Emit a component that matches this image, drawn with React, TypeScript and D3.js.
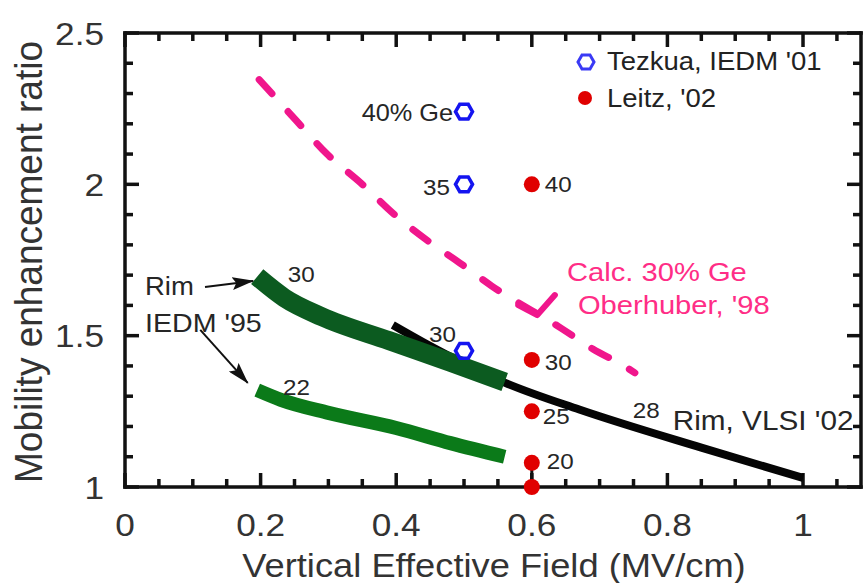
import React from 'react';
import * as d3 from 'd3';

const W = 863;
const H = 583;

const xMax = 1.087;
const xTicks = [0, 0.2, 0.4, 0.6, 0.8, 1];
const xTickLabels = ['0', '0.2', '0.4', '0.6', '0.8', '1'];
const yTicks = [1, 1.5, 2, 2.5];
const yTickLabels = ['1', '1.5', '2', '2.5'];

// Rim, IEDM '95 (30% and 22% Ge bands)
const rim30Field = [0.195, 0.235, 0.29, 0.39, 0.48, 0.56];
const rim30Ratio = [1.695, 1.625, 1.563, 1.483, 1.412, 1.347];
const rim22Field = [0.195, 0.23, 0.3, 0.4, 0.48, 0.56];
const rim22Ratio = [1.32, 1.288, 1.245, 1.195, 1.145, 1.1];

// Rim, VLSI '02 (28%)
const vlsiField = [0.395, 0.44, 0.56, 0.67, 0.85, 1.0];
const vlsiRatio = [1.535, 1.478, 1.345, 1.256, 1.13, 1.03];

// Calc. 30% Ge, Oberhuber '98
const calcField = [0.177, 0.208, 0.252, 0.298, 0.348, 0.398, 0.445, 0.494, 0.541, 0.643, 0.69, 0.739, 0.752];
const calcRatio = [2.397, 2.321, 2.212, 2.1, 2.004, 1.899, 1.816, 1.74, 1.664, 1.525, 1.456, 1.396, 1.377];
const calcCheckField = [0.58, 0.608, 0.634];
const calcCheckRatio = [1.601, 1.568, 1.634];

// Tezkua, IEDM '01
const tezkuaField = [0.5, 0.5, 0.5];
const tezkuaRatio = [2.24, 2.0, 1.45];
const tezkuaLabels = ['40% Ge', '35', '30'];

// Leitz, '02
const leitzField = [0.6, 0.6, 0.6, 0.6, 0.6];
const leitzRatio = [2.0, 1.42, 1.25, 1.08, 1.0];
const leitzLabels = ['40', '30', '25', '20', ''];
const leitzBar = [1.0, 1.08];

// label placement (px offsets from the point)
const tezkuaLabelOffset = [[-11, 9], [-14, 11], [-8, -9]];
const leitzLabelOffset = [[13, 8], [13, 10], [11, 13], [15, 6], [0, 0]];

const font = '"Liberation Sans", Arial, sans-serif';
const ink = '#262626';
const pink = '#f0168c';
const axisInk = '#111111';
const lw = 3.5;

const zip = (a: number[], b: number[]) => a.map((v, i) => [v, b[i]] as [number, number]);

const hexPath = (r: number) =>
  'M' + d3.range(6).map(i => {
    const a = (Math.PI / 3) * i;
    return [r * Math.cos(a), r * Math.sin(a)].join(',');
  }).join('L') + 'Z';

const T = ({ x, y, size, anchor = 'start', fill = ink, children }: any) => (
  <text
    transform={`translate(${x},${y}) scale(1.1,1)`}
    fontSize={size}
    textAnchor={anchor}
    fill={fill}
    fontFamily={font}
  >
    {children}
  </text>
);

type Box = { x: number; y: number; w: number; h: number };

export default function App() {
  const x = d3.scaleLinear().domain([0, xMax]).range([125, 862]);
  const y = d3.scaleLinear().domain([1, 2.5]).range([487, 33]);

  const line = d3.line<[number, number]>()
    .x(d => x(d[0]))
    .y(d => y(d[1]))
    .curve(d3.curveMonotoneX);
  const straight = d3.line<[number, number]>()
    .x(d => x(d[0]))
    .y(d => y(d[1]));

  const left = x(0);
  const right = x(xMax) - 1;
  const bottom = y(1);
  const top = y(2.5);
  const h = lw / 2;

  const xMinor = d3.range(0, xMax, 0.05);
  const yMinor = d3.range(1, 2.5001, 0.1);
  const isMajorX = (v: number) => Math.abs(v / 0.2 - Math.round(v / 0.2)) < 1e-6;
  const isMajorY = (v: number) => Math.abs(v / 0.5 - Math.round(v / 0.5)) < 1e-6;

  // ticks and frame drawn as filled boxes
  const boxes: Box[] = [];
  xMinor.forEach(v => {
    const len = isMajorX(v) ? 14 : 8;
    const px = x(v);
    boxes.push({ x: px - h, y: bottom - len, w: lw, h: len });
    boxes.push({ x: px - h, y: top, w: lw, h: len });
  });
  yMinor.forEach(v => {
    const len = isMajorY(v) ? 14 : 8;
    const py = y(v);
    boxes.push({ x: left, y: py - h, w: len, h: lw });
    boxes.push({ x: right - len, y: py - h, w: len, h: lw });
  });
  boxes.push({ x: left - h, y: top - h, w: right - left + lw, h: lw });
  boxes.push({ x: left - h, y: bottom - h, w: right - left + lw, h: lw });
  boxes.push({ x: left - h, y: top - h, w: lw, h: bottom - top + lw });
  boxes.push({ x: right - h, y: top - h, w: lw, h: bottom - top + lw });

  const hex = hexPath(8.5);

  return (
    <svg
      width={W}
      height={H}
      style={{ position: 'absolute', left: 0, top: 0, background: '#fff' }}
    >
      <defs>
        <marker id="ah" markerWidth={22} markerHeight={13} refX={21} refY={6.5}
          orient="auto" markerUnits="userSpaceOnUse">
          <path d="M0,0 L22,6.5 L0,13 L4,6.5 Z" fill="#111" />
        </marker>
      </defs>

      {/* frame and ticks */}
      <g fill={axisInk}>
        {boxes.map((b, i) => (
          <rect key={'b' + i} x={b.x} y={b.y} width={b.w} height={b.h} fill={axisInk} />
        ))}
      </g>

      {/* tick labels */}
      {xTicks.map((v, i) => (
        <T key={'xl' + i} x={x(v)} y={536} size={32} anchor="middle" fill="#333">
          {xTickLabels[i]}
        </T>
      ))}
      {yTicks.map((v, i) => (
        <T key={'yl' + i} x={104} y={y(v) + 11.5} size={32} anchor="end" fill="#333">
          {yTickLabels[i]}
        </T>
      ))}

      {/* axis titles */}
      <T x={494} y={577} size={33} anchor="middle" fill="#333">
        Vertical Effective Field (MV/cm)
      </T>
      <text
        transform="translate(42,262) rotate(-90) scale(1,1.05)"
        fontSize={37}
        textAnchor="middle"
        fill="#333"
        fontFamily={font}
      >
        Mobility enhancement ratio
      </text>

      {/* Oberhuber calculation */}
      <path
        d={line(zip(calcField, calcRatio)) || ''}
        fill="none"
        stroke={pink}
        strokeWidth={7}
        strokeLinecap="round"
        strokeDasharray="19 24"
        strokeDashoffset={22}
      />
      <path
        d={straight(zip(calcCheckField, calcCheckRatio)) || ''}
        fill="none"
        stroke={pink}
        strokeWidth={6}
        strokeLinecap="round"
        strokeLinejoin="round"
      />

      {/* Leitz labels (under the VLSI line) */}
      {leitzRatio.map((v, i) => (
        <T key={'ll' + i} x={x(leitzField[i]) + leitzLabelOffset[i][0]}
          y={y(v) + leitzLabelOffset[i][1]} size={22}>
          {leitzLabels[i]}
        </T>
      ))}

      {/* Rim VLSI '02 */}
      <path
        d={line(zip(vlsiField, vlsiRatio)) || ''}
        fill="none"
        stroke="#050505"
        strokeWidth={8}
      />

      {/* Rim IEDM '95 bands */}
      <path
        d={line(zip(rim22Field, rim22Ratio)) || ''}
        fill="none"
        stroke="#0b7a19"
        strokeWidth={14}
      />
      <path
        d={line(zip(rim30Field, rim30Ratio)) || ''}
        fill="none"
        stroke="#0c5b20"
        strokeWidth={19}
      />

      {/* Leitz error bar and points */}
      <rect
        x={x(leitzField[0]) - 1.5}
        y={y(leitzBar[1])}
        width={3}
        height={y(leitzBar[0]) - y(leitzBar[1])}
        fill="#111"
      />
      {leitzRatio.map((v, i) => (
        <circle key={'lp' + i} cx={x(leitzField[i])} cy={y(v)} r={8} fill="#e00000" />
      ))}

      {/* Tezkua points */}
      {tezkuaRatio.map((v, i) => (
        <g key={'tp' + i}>
          <path
            d={hex}
            transform={`translate(${x(tezkuaField[i])},${y(v)})`}
            fill="none"
            stroke="#1414f0"
            strokeWidth={3.5}
          />
          <T x={x(tezkuaField[i]) + tezkuaLabelOffset[i][0]}
            y={y(v) + tezkuaLabelOffset[i][1]} size={i === 0 ? 23 : 22} anchor="end">
            {tezkuaLabels[i]}
          </T>
        </g>
      ))}

      {/* annotations */}
      <T x={x(0.24)} y={y(1.677)} size={22}>30</T>
      <T x={x(0.233)} y={y(1.304)} size={22}>22</T>
      <T x={x(0.749)} y={y(1.228)} size={22}>28</T>
      <T x={x(0.808)} y={y(1.188)} size={27}>Rim, VLSI '02</T>
      <T x={x(0.652)} y={y(1.68)} size={26.5} fill="#ff2d86">Calc. 30% Ge</T>
      <T x={x(0.668)} y={y(1.572)} size={26.5} fill="#ff2d86">Oberhuber, '98</T>
      <T x={x(0.0295)} y={y(1.634)} size={25}>Rim</T>
      <T x={x(0.0295)} y={y(1.512)} size={26}>IEDM '95</T>

      <path
        d={straight([[0.118, 1.661], [0.189, 1.681]]) || ''}
        stroke="#111"
        strokeWidth={2}
        fill="none"
        markerEnd="url(#ah)"
      />
      <path
        d={straight([[0.111, 1.519], [0.181, 1.344]]) || ''}
        stroke="#111"
        strokeWidth={2}
        fill="none"
        markerEnd="url(#ah)"
      />

      {/* legend */}
      <g>
        <path d={hexPath(8)} transform="translate(586,62)" fill="none" stroke="#3a3af5" strokeWidth={3} />
        <T x={607} y={70} size={25} fill="#222">Tezkua, IEDM '01</T>
        <circle cx={585} cy={98} r={7} fill="#e00000" />
        <T x={607} y={107} size={25} fill="#222">Leitz, '02</T>
      </g>
    </svg>
  );
}
